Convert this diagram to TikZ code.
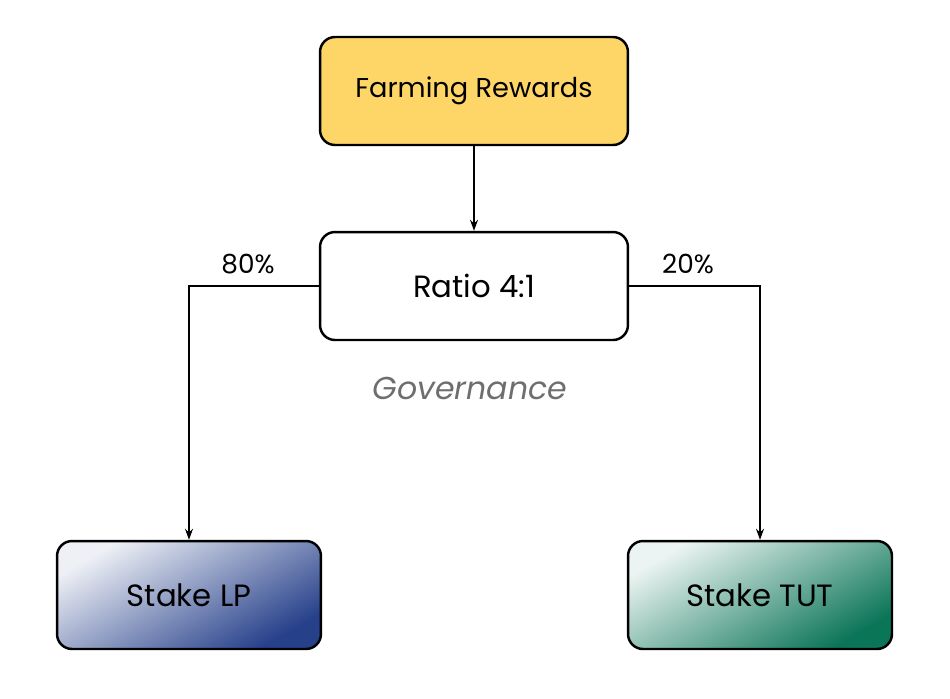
\documentclass[tikz,border=0pt]{standalone}
\usepackage{fontspec}
\setmainfont{Poppins}
\usetikzlibrary{arrows.meta}
\definecolor{farmyellow}{HTML}{FDD667}
\definecolor{lpblue}{HTML}{26408A}
\definecolor{tutgreen}{HTML}{0B7558}
\definecolor{govgray}{HTML}{6E6E6E}
\tikzset{
  card/.style={draw=black, line width=1.4pt, rounded corners=0.3cm,
    minimum width=6.16cm, minimum height=2.16cm, font=\fontsize{17.5}{20}\selectfont},
  stakecard/.style={card, minimum width=5.28cm},
  link/.style={line width=0.8pt, -{Stealth[length=2.2mm,width=1.6mm]}}
}
\begin{document}
\begin{tikzpicture}[x=0.02cm, y=-0.02cm]
  \useasboundingbox (0,0) rectangle (950,698);

  \node[card, fill=farmyellow, font=\fontsize{15.5}{18}\selectfont] (farm) at (474,91) {Farming Rewards};
  \node[card, fill=white] (ratio) at (474,286) {Ratio 4:1};
  \node[stakecard, top color=white!92!lpblue, bottom color=lpblue, shading angle=30] (lp) at (189,595) {Stake LP};
  \node[stakecard, top color=white!92!tutgreen, bottom color=tutgreen, shading angle=30] (tut) at (760,595) {Stake TUT};

  \node[text=govgray, font=\fontsize{18}{21}\selectfont\itshape] (gov) at (470,388) {Governance};

  \draw[link] (farm) -- (ratio);
  \draw[link] (ratio.west) -| (lp.north);
  \draw[link] (ratio.east) -| (tut.north);

  \node[font=\fontsize{15}{18}\selectfont] (lpshare) at (248,264) {80\%};
  \node[font=\fontsize{15}{18}\selectfont] (tutshare) at (688,264) {20\%};
\end{tikzpicture}
\end{document}
